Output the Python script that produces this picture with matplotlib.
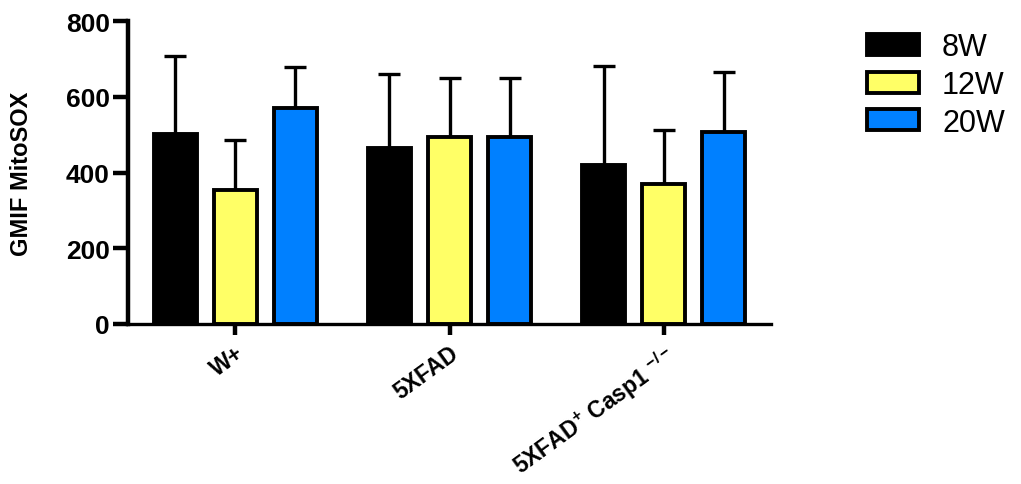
import matplotlib
matplotlib.use("Agg")
import matplotlib.pyplot as plt
import matplotlib.patches as mpatches
import numpy as np

# Groups, series and values
groups = ["W+", "5XFAD", "5XFAD$^{+}$ Casp1 $^{\\mathregular{-/-}}$"]
series = ["8W", "12W", "20W"]
colors = ["#000000", "#FFFF66", "#0080FF"]
means = {
    "8W":  [501, 466, 421],
    "12W": [354, 495, 369],
    "20W": [570, 495, 506],
}
errors = {
    "8W":  [206, 194, 259],
    "12W": [132, 155, 142],
    "20W": [108, 155, 160],
}
yticks = [0, 200, 400, 600, 800]

plt.rcParams["font.family"] = ["Liberation Sans", "DejaVu Sans"]
plt.rcParams["mathtext.fontset"] = "custom"
plt.rcParams["mathtext.rm"] = "Liberation Sans:bold"
plt.rcParams["mathtext.default"] = "rm"

fig = plt.figure(figsize=(10.21, 4.85), dpi=100)
ax = fig.add_axes([128 / 1021, 1 - 325 / 485, (771 - 128) / 1021, (325 - 22) / 485])

x = np.arange(len(groups))
offsets = [-0.28, 0.0, 0.28]
width = 0.2
for s, off, c in zip(series, offsets, colors):
    ax.bar(x + off, means[s], width, color=c, edgecolor="black", linewidth=2.8,
           zorder=2)
    ax.errorbar(x + off, means[s], yerr=[np.zeros(len(groups)), errors[s]],
                fmt="none", ecolor="black", elinewidth=2.4, capsize=8,
                capthick=2.4, zorder=1)

ax.set_xlim(-0.5, 2.5)
ax.set_ylim(0, 800)
ax.set_yticks(yticks)
ax.set_yticklabels([str(v) for v in yticks], fontsize=19, fontweight="bold")
ax.set_xticks(x)
ax.set_xticklabels(groups, rotation=36, ha="right", rotation_mode="anchor",
                   fontsize=16.5, fontweight="bold")
ax.set_ylabel("GMIF MitoSOX", fontsize=17, fontweight="bold")
ax.yaxis.set_label_coords(-0.147, 0.5)

for side in ["top", "right"]:
    ax.spines[side].set_visible(False)
ax.spines["left"].set_linewidth(3.2)
ax.spines["bottom"].set_linewidth(2.4)
ax.tick_params(axis="y", length=11, width=3.2, pad=2)
ax.tick_params(axis="x", length=8, width=3.2, pad=4)

handles = [mpatches.Patch(facecolor=c, edgecolor="black", linewidth=2.8, label=s)
           for s, c in zip(series, colors)]
fig.legend(handles=handles, loc="upper left", bbox_to_anchor=(855 / 1021, 1 - 21 / 485),
           frameon=False, fontsize=22, handlelength=1.7, handleheight=0.68,
           handletextpad=0.75, labelspacing=0.25, borderaxespad=0)

fig.savefig("out.png", dpi=100)
